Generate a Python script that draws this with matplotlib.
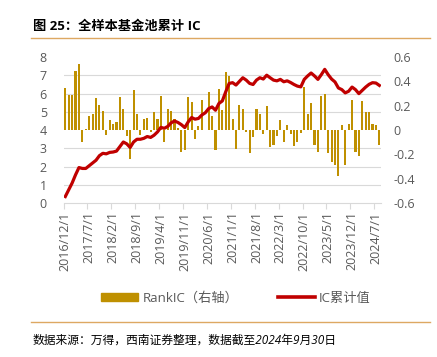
import numpy as np
import pandas as pd
import matplotlib
matplotlib.use("Agg")
import matplotlib.pyplot as plt
from matplotlib.patches import Patch
from matplotlib.lines import Line2D

plt.rcParams['font.family'] = ['Open Sans', 'Noto Sans CJK SC', 'DejaVu Sans']

# monthly data, 2016/12 .. 2024/8
dates = pd.date_range('2016-12-01', periods=93, freq='MS')
date_labels = [f"{d.year}/{d.month}/1" for d in dates]

rank_ic = [0.35, 0.29, 0.29, 0.49, 0.54, -0.10, 0.01, 0.12, 0.13, 0.26,
           0.21, 0.16, -0.04, 0.08, 0.05, 0.07, 0.27, 0.17, -0.045, -0.24,
           0.33, 0.13, -0.04, 0.095, 0.10, -0.014, 0.145, 0.09, 0.28, -0.10,
           0.17, 0.16, 0.09, 0.02, -0.18, -0.165, 0.27, 0.23, -0.07, 0.03,
           0.25, 0.005, 0.31, 0.115, -0.165, 0.34, 0.165, 0.48, 0.445, 0.09,
           -0.155, 0.21, 0.17, -0.015, -0.19, -0.055, 0.17, 0.13, -0.035, 0.20,
           -0.14, -0.12, -0.05, 0.08, -0.10, 0.04, -0.035, -0.13, -0.095, -0.02,
           0.355, 0.13, 0.22, -0.12, -0.18, 0.28, 0.30, -0.19, -0.26, -0.29,
           -0.38, 0.04, -0.29, 0.05, 0.25, -0.18, -0.21, 0.24, 0.15, 0.15,
           0.05, 0.045, -0.12]

ic_cum = [0.36, 0.73, 1.10, 1.55, 1.95, 1.90, 1.90, 2.05, 2.20, 2.35,
          2.60, 2.73, 2.70, 2.78, 2.80, 2.85, 3.10, 3.35, 3.25, 3.05,
          3.35, 3.50, 3.50, 3.55, 3.65, 3.60, 3.72, 3.90, 4.15, 4.10,
          4.20, 4.40, 4.50, 4.42, 4.30, 4.14, 4.45, 4.69, 4.60, 4.64,
          4.83, 4.95, 5.18, 5.27, 5.09, 5.46, 5.60, 6.10, 6.56, 6.60,
          6.47, 6.67, 6.87, 6.74, 6.56, 6.50, 6.74, 6.87, 6.80, 7.01,
          6.87, 6.74, 6.70, 6.78, 6.65, 6.70, 6.61, 6.50, 6.41, 6.37,
          6.78, 6.97, 7.13, 6.97, 6.78, 7.04, 7.33, 7.04, 6.80, 6.64,
          6.31, 6.22, 6.04, 6.13, 6.36, 6.22, 6.00, 6.18, 6.36, 6.51,
          6.60, 6.58, 6.45]

gold = '#BF9000'
red = '#C00000'
grey = '#595959'
grid_c = '#D9D9D9'

fig = plt.figure(figsize=(4.37, 3.57), dpi=100)
ax_bar = fig.add_axes([0.1455, 0.431, 0.7265, 0.409])
ax_line = ax_bar.twinx()

x = np.arange(len(dates))

# bars (right axis)
ax_bar.bar(x, rank_ic, width=0.62, color=gold, zorder=2)
ax_bar.set_ylim(-0.6, 0.6)
ax_bar.set_yticks(np.round(np.arange(-0.6, 0.61, 0.2), 1))
ax_bar.set_yticklabels(['-0.6', '-0.4', '-0.2', '0', '0.2', '0.4', '0.6'])
ax_bar.yaxis.tick_right()
# grid lines follow the left axis (0..8)
ax_bar.set_yticks(np.arange(-0.6, 0.61, 0.15), minor=True)
ax_bar.grid(True, which='minor', axis='y', color=grid_c, linewidth=0.8, zorder=0)
ax_bar.tick_params(axis='y', which='both', length=0, colors=grey, labelsize=9, pad=9)
ax_bar.set_axisbelow(True)

# line (left axis)
ax_line.plot(x, ic_cum, color=red, linewidth=2.3, zorder=3)
ax_line.set_ylim(0, 8)
ax_line.set_yticks(range(0, 9))
ax_line.yaxis.tick_left()
ax_line.tick_params(axis='y', length=0, colors=grey, labelsize=9, pad=12)

ax_bar.set_xlim(-0.5, len(dates) - 0.5)
lab_pos = x[::7]
ax_bar.set_xticks(lab_pos)
ax_bar.set_xticklabels([date_labels[i] for i in lab_pos], rotation=90)
ax_bar.set_xticks(np.arange(-0.5, len(dates), 7), minor=True)
ax_bar.tick_params(axis='x', which='major', length=0, colors=grey, labelsize=9, pad=6)
ax_bar.tick_params(axis='x', which='minor', length=4, color=grid_c, width=0.8)

for a in (ax_bar, ax_line):
    for s in a.spines.values():
        s.set_visible(False)
ax_bar.spines['bottom'].set_visible(True)
ax_bar.spines['bottom'].set_color(grid_c)

# legend
handles = [Patch(facecolor=gold, edgecolor=gold),
           Line2D([0], [0], color=red, linewidth=2.6)]
fig.legend(handles, ['RankIC（右轴）', 'IC累计值'], loc='center',
           bbox_to_anchor=(0.54, 0.165), ncol=2, frameon=False,
           fontsize=9.5, labelcolor=grey, handlelength=2.8,
           handleheight=0.6, columnspacing=3.0, handletextpad=0.3)

# title and footer
fig.text(0.075, 0.925, '图 25：全样本基金池累计 IC', fontsize=9.5,
         fontweight='bold', color='black', va='center')
fig.add_artist(Line2D([0.071, 0.984], [0.893, 0.893], color='#DDA862', linewidth=1.0))
fig.add_artist(Line2D([0.071, 0.984], [0.098, 0.098], color='#DDA862', linewidth=1.0))
fig.text(0.075, 0.048, '数据来源：万得，西南证券整理，数据截至2024年9月30日',
         fontsize=8.5, color='black', va='center', style='italic')

fig.savefig('out.png', dpi=100)
